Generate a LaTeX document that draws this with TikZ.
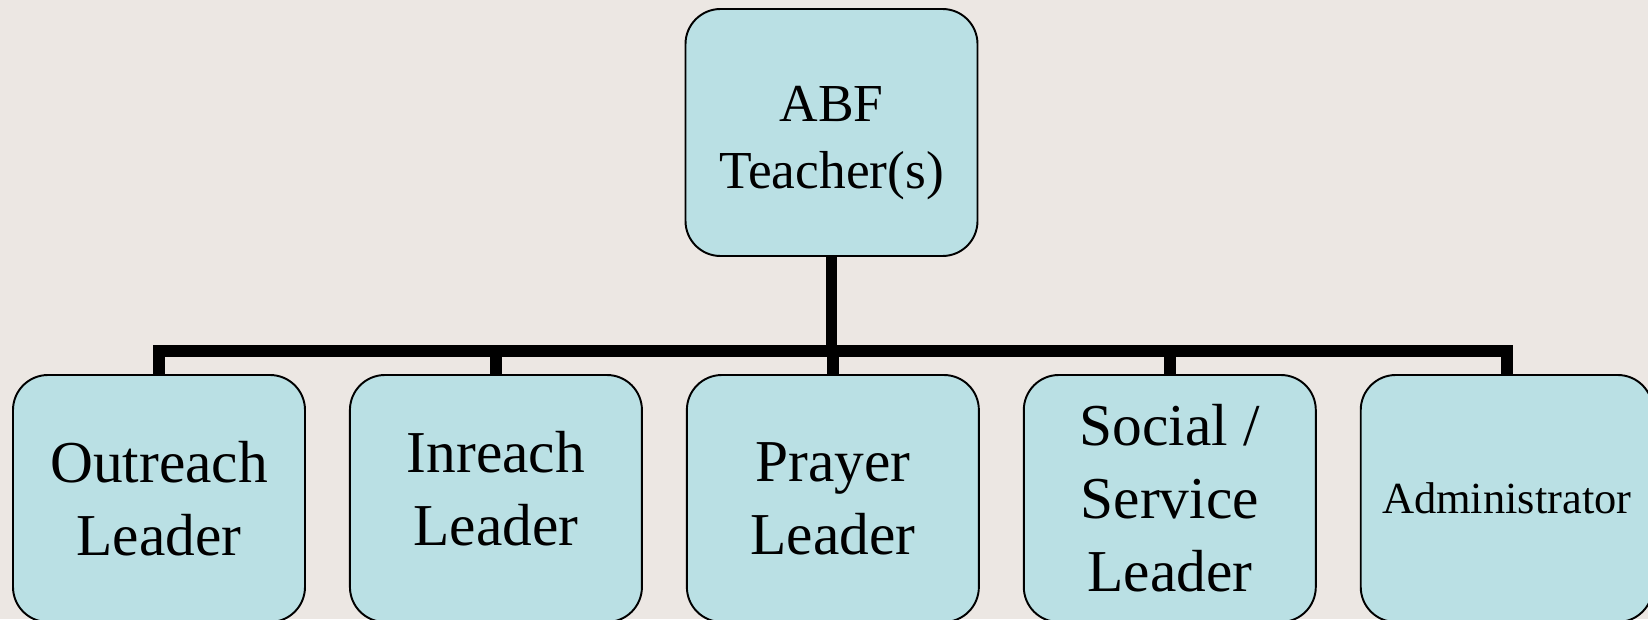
\documentclass[tikz,border=0pt]{standalone}
\usepackage{fontspec}
\setmainfont{Liberation Serif}
\usetikzlibrary{positioning}
\definecolor{paper}{RGB}{236,231,227}
\definecolor{boxfill}{RGB}{186,224,228}
% lines of a box, moved up or down by #1
\newcommand{\nudged}[2]{\vphantom{\begin{tabular}{@{}c@{}}#2\end{tabular}}%
  \raisebox{#1}{\smash{\begin{tabular}{@{}c@{}}#2\end{tabular}}}}
\tikzset{
  role/.style={draw=black, fill=boxfill, line width=1.1pt, rounded corners=0.7cm,
    minimum width=5.84cm, minimum height=4.94cm, inner sep=0pt, align=center,
    font=\fontsize{33.8}{41.5}\selectfont},
  link/.style={line width=6.8pt, line join=miter}
}
\begin{document}
\begin{tikzpicture}
\useasboundingbox (0,0) rectangle (32.96,-12.38);
\fill[paper] (0,0) rectangle (32.96,-12.38);
\clip (0,0) rectangle (32.96,-12.38);
\coordinate (bus) at (0,-7.02);
% top of the chart
\node[role, font=\fontsize{30.4}{38.1}\selectfont] (teacher) at (16.63,-2.65) {\nudged{-0.18cm}{ABF\\Teacher(s)}};
% second row
\node[role] (outreach) at (3.18,-9.97) {Outreach\\Leader};
\node[role, right=0.86cm of outreach] (inreach) {\nudged{0.09cm}{Inreach\\Leader}};
\node[role, right=0.86cm of inreach] (prayer) {Prayer\\Leader};
\node[role, right=0.86cm of prayer] (social) {Social /\\Service\\Leader};
\node[role, right=0.86cm of social, font=\fontsize{25.3}{30}\selectfont] (admin) {Administrator};
% connectors
\draw[link] (teacher.south) -- (teacher.south |- bus);
\draw[link] (outreach.north) -- (outreach.north |- bus) -- (admin.north |- bus) -- (admin.north);
\foreach \n in {inreach,prayer,social}
  \draw[link] (\n.north) -- (\n.north |- bus);
\end{tikzpicture}
\end{document}
